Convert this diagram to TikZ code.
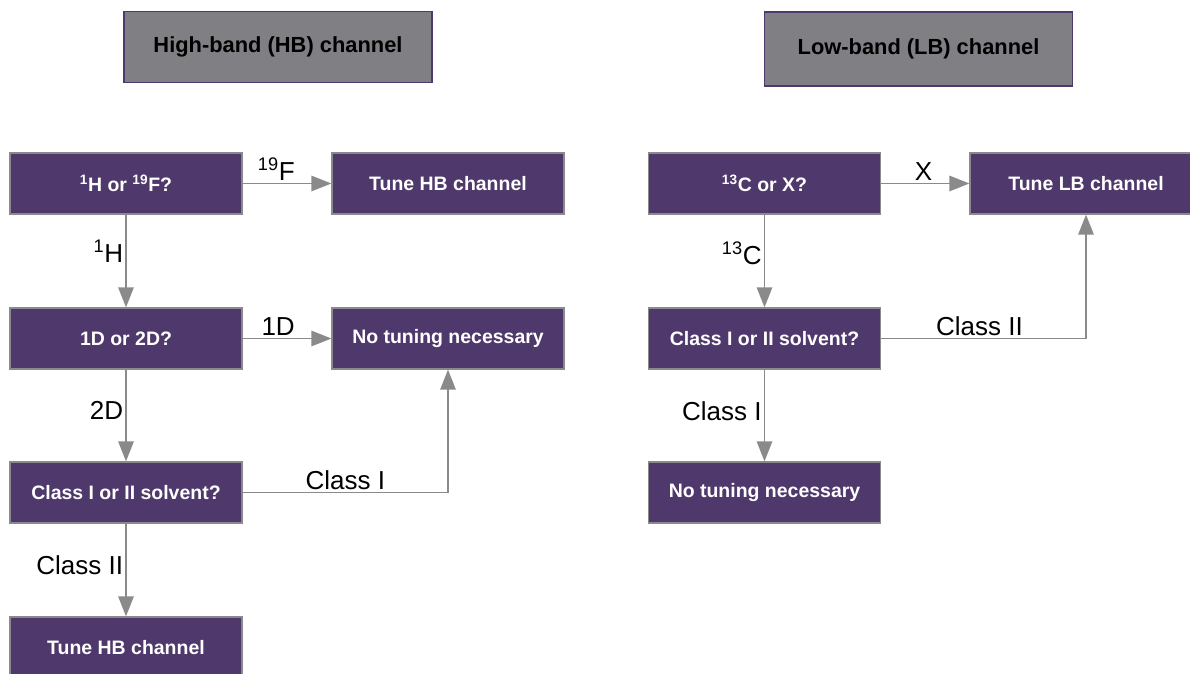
\documentclass[tikz,border=0pt]{standalone}
\usepackage{fontspec}
\setmainfont{Liberation Sans}
\usetikzlibrary{arrows.meta}
\usepackage{xcolor}
\definecolor{boxpurple}{HTML}{4F386B}
\definecolor{headgrey}{HTML}{807F84}
\definecolor{linegrey}{HTML}{8A8A8C}

\begin{document}
\begin{tikzpicture}[x=0.75pt, y=-0.75pt]
 \tikzstyle{stepbox}=[rectangle, draw=linegrey, line width=0.9pt, fill=boxpurple,
                      text=white, font=\bfseries\fontsize{14.6}{16}\selectfont,
                      inner sep=0pt, minimum width=174pt, minimum height=45.75pt]
 \tikzstyle{headbox}=[rectangle, draw=boxpurple, line width=0.9pt, fill=headgrey,
                      text=black, font=\bfseries\fontsize{16.4}{18}\selectfont,
                      inner sep=0pt, minimum width=231pt, minimum height=53pt]
 \tikzstyle{flow}=[linegrey, line width=1.4pt, -{Triangle[length=15pt, width=11.5pt]}]
 \tikzstyle{lab}=[text=black, font=\fontsize{19.5}{21}\selectfont, inner sep=1.5pt]
 \tikzstyle{elbow}=[to path={-| (\tikztotarget) \tikztonodes}]

        \useasboundingbox (0,0) rectangle (1190,674);

        % high band
        \node[headbox] (hhead) at (278,47) {High-band (HB) channel};
        \node[stepbox] (hnuc)    at (126,183.5) {\textsuperscript{1}H or \textsuperscript{19}F?};
        \node[stepbox] (htune)   at (448,183.5) {Tune HB channel};
        \node[stepbox] (hdim)    at (126,338.5) {1D or 2D?};
        \node[stepbox] (hnotune) at (448,338.5) {No tuning necessary};
        \node[stepbox] (hsolv)   at (126,492.5) {Class I or II solvent?};
        \node[stepbox] (htunetwo) at (126,647.5) {Tune HB channel};

        % low band
        \node[headbox, minimum height=55.5pt] (lhead) at (918.5,49) {Low-band (LB) channel};
        \node[stepbox] (lnuc)    at (764.5,183.5) {\textsuperscript{13}C or X?};
        \node[stepbox] (ltune)   at (1086,183.5) {Tune LB channel};
        \node[stepbox] (lsolv)   at (764.5,338.5) {Class I or II solvent?};
        \node[stepbox] (lnotune) at (764.5,492.5) {No tuning necessary};

        \path[flow]
    (hnuc) edge node[lab, above, pos=0.38] {\textsuperscript{19}F} (htune)
    (hnuc) edge node[lab, left, pos=0.4] {\textsuperscript{1}H} (hdim)
    (hdim) edge node[lab, above, pos=0.4] {1D} (hnotune)
    (hdim) edge node[lab, left, pos=0.45] {2D} (hsolv)
    (hsolv) edge[elbow] node[lab, above, pos=0.25] {Class I} (hnotune)
    (hsolv) edge node[lab, left, pos=0.45] {Class II} (htunetwo);

        \path[flow]
    (lnuc) edge node[lab, above, pos=0.48] {X} (ltune)
    (lnuc) edge node[lab, left, pos=0.42] {\textsuperscript{13}C} (lsolv)
    (lsolv) edge[elbow] node[lab, above, pos=0.24] {Class II} (ltune)
    (lsolv) edge node[lab, left, pos=0.45] {Class I} (lnotune);

\end{tikzpicture}
\end{document}
